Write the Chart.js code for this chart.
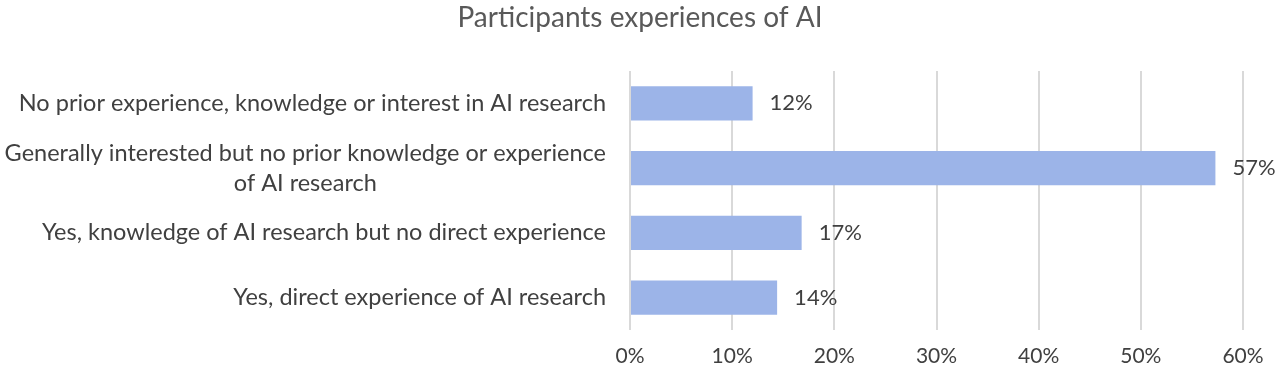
<!DOCTYPE html>
<html>
<head>
<meta charset="utf-8">
<script src="https://cdn.jsdelivr.net/npm/chart.js@4/dist/chart.umd.min.js"></script>
<style>
  html, body { margin: 0; padding: 0; background: #fff; }
  #wrap { width: 1280px; height: 373px; position: relative; }
</style>
</head>
<body>
<div id="wrap"><canvas id="barChart"></canvas></div>
<script>
// Chart data
const chartTitle = 'Participants experiences of AI';
const categories = [
  ['No prior experience, knowledge or interest in AI research'],
  ['Generally interested but no prior knowledge or experience', 'of AI research'],
  ['Yes, knowledge of AI research but no direct experience'],
  ['Yes, direct experience of AI research']
];
const shares = [0.12, 0.573, 0.168, 0.144];
const xTicks = [0, 0.1, 0.2, 0.3, 0.4, 0.5, 0.6];

(() => {
  'use strict'

  const ctx = document.getElementById('barChart').getContext('2d');
  const FONT = 'Lato, "Open Sans", sans-serif';
  const textColor = '#404040';

  // title centred on the whole canvas
  const pageTitle = {
    id: 'pageTitle',
    afterDraw(chart) {
      const c = chart.ctx;
      c.save();
      c.font = '28px ' + FONT;
      c.fillStyle = '#595959';
      c.textAlign = 'center';
      c.textBaseline = 'middle';
      c.fillText(chartTitle, chart.width / 2, 18);
      c.restore();
    }
  };

  // y labels: right aligned block, extra lines centered under the first one
  const categoryLabels = {
    id: 'categoryLabels',
    afterDraw(chart) {
      const c = chart.ctx;
      const y = chart.scales.y;
      const right = chart.chartArea.left - 24;
      c.save();
      c.font = '23.5px ' + FONT;
      c.fillStyle = textColor;
      c.textBaseline = 'middle';
      c.textAlign = 'center';
      const lh = 30;
      categories.forEach((lines, i) => {
        const w = Math.max(...lines.map(l => c.measureText(l).width));
        const cx = right - w / 2;
        const cy = y.getPixelForValue(i);
        const top = cy - (lines.length - 1) * lh / 2;
        lines.forEach((l, j) => c.fillText(l, cx, top + j * lh));
      });
      c.restore();
    }
  };

  // value labels after bar ends
  const valueLabels = {
    id: 'valueLabels',
    afterDatasetsDraw(chart) {
      const c = chart.ctx;
      const meta = chart.getDatasetMeta(0);
      c.save();
      c.font = '22px ' + FONT;
      c.fillStyle = textColor;
      c.textBaseline = 'middle';
      c.textAlign = 'left';
      meta.data.forEach((bar, i) => {
        c.fillText(Math.round(shares[i] * 100) + '%', bar.x + 17, bar.y);
      });
      c.restore();
    }
  };

  const config = {
    type: 'bar',
    data: {
      labels: categories.map(l => l.join(' ')),
      datasets: [{
        data: shares,
        backgroundColor: '#9CB4E8',
        borderWidth: 0,
        categoryPercentage: 1,
        barPercentage: 0.53
      }]
    },
    options: {
      indexAxis: 'y',
      responsive: true,
      maintainAspectRatio: false,
      animation: false,
      layout: { padding: { left: 0, right: 37, top: 71, bottom: 0 } },
      scales: {
        x: {
          min: 0,
          max: 0.6,
          afterBuildTicks: (scale) => { scale.ticks = xTicks.map(v => ({ value: v })); },
          afterFit: (scale) => { scale.height = 43; },
          grid: { color: '#D9D9D9', lineWidth: 2, drawTicks: false },
          border: { display: false },
          ticks: {
            padding: 14,
            color: textColor,
            font: { family: FONT, size: 21 },
            callback: (v) => Math.round(v * 100) + '%'
          }
        },
        y: {
          afterFit: (scale) => { scale.width = 630; },
          grid: { display: false },
          border: { display: false },
          ticks: { display: false }
        }
      },
      plugins: {
        legend: { display: false },
        tooltip: { enabled: false },
        title: { display: false }
      }
    },
    plugins: [pageTitle, categoryLabels, valueLabels]
  };

  const barChart = new Chart(ctx, config);
})()
</script>
</body>
</html>
